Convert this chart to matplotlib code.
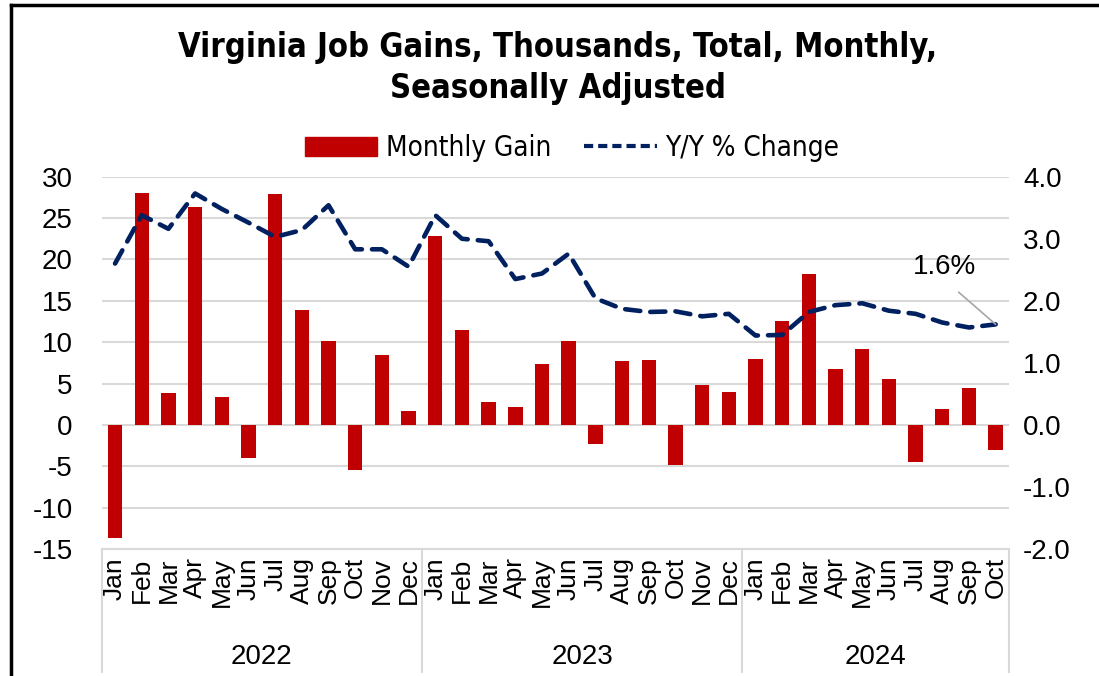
import matplotlib
matplotlib.use("Agg")
import matplotlib.pyplot as plt
import matplotlib.transforms as mtransforms
from matplotlib.lines import Line2D
from matplotlib.patches import Patch
import numpy as np

years = ["2022", "2023", "2024"]
months_per_year = [12, 12, 10]
month_names = ["Jan", "Feb", "Mar", "Apr", "May", "Jun", "Jul", "Aug", "Sep", "Oct", "Nov", "Dec"]

monthly_gain = [-13.7, 28.0, 3.9, 26.3, 3.4, -4.0, 27.9, 13.9, 10.2, -5.4, 8.4, 1.7,
                22.8, 11.5, 2.8, 2.2, 7.4, 10.1, -2.3, 7.7, 7.9, -4.9, 4.8, 4.0,
                8.0, 12.5, 18.2, 6.7, 9.2, 5.5, -4.5, 1.9, 4.5, -3.0]
yoy_change = [2.60, 3.38, 3.16, 3.73, 3.48, 3.26, 3.03, 3.14, 3.54, 2.83, 2.83, 2.55,
              3.38, 3.00, 2.96, 2.35, 2.44, 2.76, 2.04, 1.87, 1.82, 1.83, 1.75, 1.79,
              1.44, 1.45, 1.82, 1.93, 1.96, 1.84, 1.79, 1.65, 1.57, 1.62]
annot_text = "1.6%"

left_ticks = [-15, -10, -5, 0, 5, 10, 15, 20, 25, 30]
right_ticks = [-2.0, -1.0, 0.0, 1.0, 2.0, 3.0, 4.0]

labels = []
for n in months_per_year:
    labels += month_names[:n]
x = np.arange(len(labels))

BAR = "#C00000"
LINE = "#002060"
GRID = "#D9D9D9"
FONT = ["Liberation Sans", "DejaVu Sans"]

W, H = 1099, 676
fig = plt.figure(figsize=(W / 100, H / 100), dpi=100)
ax = fig.add_axes([101.7 / W, 1 - 549 / H, (1009 - 101.7) / W, (549 - 176.7) / H])
ax2 = ax.twinx()

ax.set_zorder(1)
ax2.set_zorder(2)
ax2.patch.set_visible(False)

ax.bar(x, monthly_gain, width=0.54, color=BAR, zorder=3)
ax.set_xlim(-0.5, len(labels) - 0.5)
ax.set_ylim(-15, 30)
ax.set_yticks(left_ticks)
ax.set_yticklabels([str(t) for t in left_ticks], fontsize=20, family=FONT)
ax.yaxis.grid(True, color=GRID, linewidth=1.5, zorder=0)
ax.set_axisbelow(True)
for s in ["top", "right", "left"]:
    ax.spines[s].set_visible(False)
ax.spines["bottom"].set_color(GRID)
ax.spines["bottom"].set_linewidth(1.5)
ax.tick_params(axis="y", length=0, pad=21)
ax.set_xticks(x)
ax.set_xticklabels(labels, rotation=90, fontsize=19, family=FONT)
ax.tick_params(axis="x", length=0, pad=6)

ax2.plot(x, yoy_change, color=LINE, linewidth=3.3, linestyle=(0, (3.3, 2.2)),
         dash_capstyle="round", solid_capstyle="round")
ax2.set_ylim(-2, 4)
ax2.set_yticks(right_ticks)
ax2.set_yticklabels([f"{t:.1f}" for t in right_ticks], fontsize=20, family=FONT)
ax2.tick_params(axis="y", length=0, pad=10)
for s in ["top", "right", "left", "bottom"]:
    ax2.spines[s].set_visible(False)

# annotation of last value
ax2.annotate(annot_text, xy=(x[-1], yoy_change[-1]), xytext=(x[-1] - 1.9, yoy_change[-1] + 0.92),
             fontsize=20, family=FONT, ha="center", va="center",
             arrowprops=dict(arrowstyle="-", color="#A6A6A6", linewidth=1.2, relpos=(0.5, 0.0),
                             shrinkA=10, shrinkB=0))

# category group dividers and year labels
trans = mtransforms.blended_transform_factory(ax.transData, fig.transFigure)
bounds = np.concatenate([[0], np.cumsum(months_per_year)]) - 0.5
for b in bounds:
    ax.add_line(Line2D([b, b], [1 - 549 / H, 1 - 672 / H], transform=trans, color=GRID,
                       linewidth=1.5, clip_on=False))
for i, yr in enumerate(years):
    cx = (bounds[i] + bounds[i + 1]) / 2
    fig.text(cx, 1 - 657 / H, yr, transform=trans, ha="center", va="center", fontsize=20, family=FONT)

# title
fig.text(558 / W, 1 - 68 / H, "Virginia Job Gains, Thousands, Total, Monthly,\nSeasonally Adjusted",
         ha="center", va="center", fontsize=23.5, fontweight="bold", family="DejaVu Sans",
         fontstretch="condensed", linespacing=1.3)

# legend
handles = [Patch(color=BAR), Line2D([0], [0], color=LINE, linewidth=3, linestyle=(0, (2.2, 1.2)))]
fig.legend(handles, ["Monthly Gain", "Y/Y % Change"], loc="center", bbox_to_anchor=(572 / W, 1 - 148 / H),
           ncol=2, frameon=False, prop={"family": "DejaVu Sans", "stretch": "condensed", "size": 20},
           handlelength=2.6, handletextpad=0.3, columnspacing=1.2)

# outer frame (left and top)
fig.add_artist(Line2D([11 / W, 11 / W], [0, 1 - 5 / H], color="black", linewidth=2.5, transform=fig.transFigure))
fig.add_artist(Line2D([11 / W, 1], [1 - 5 / H, 1 - 5 / H], color="black", linewidth=2.5, transform=fig.transFigure))

fig.savefig("out.png", dpi=100)
